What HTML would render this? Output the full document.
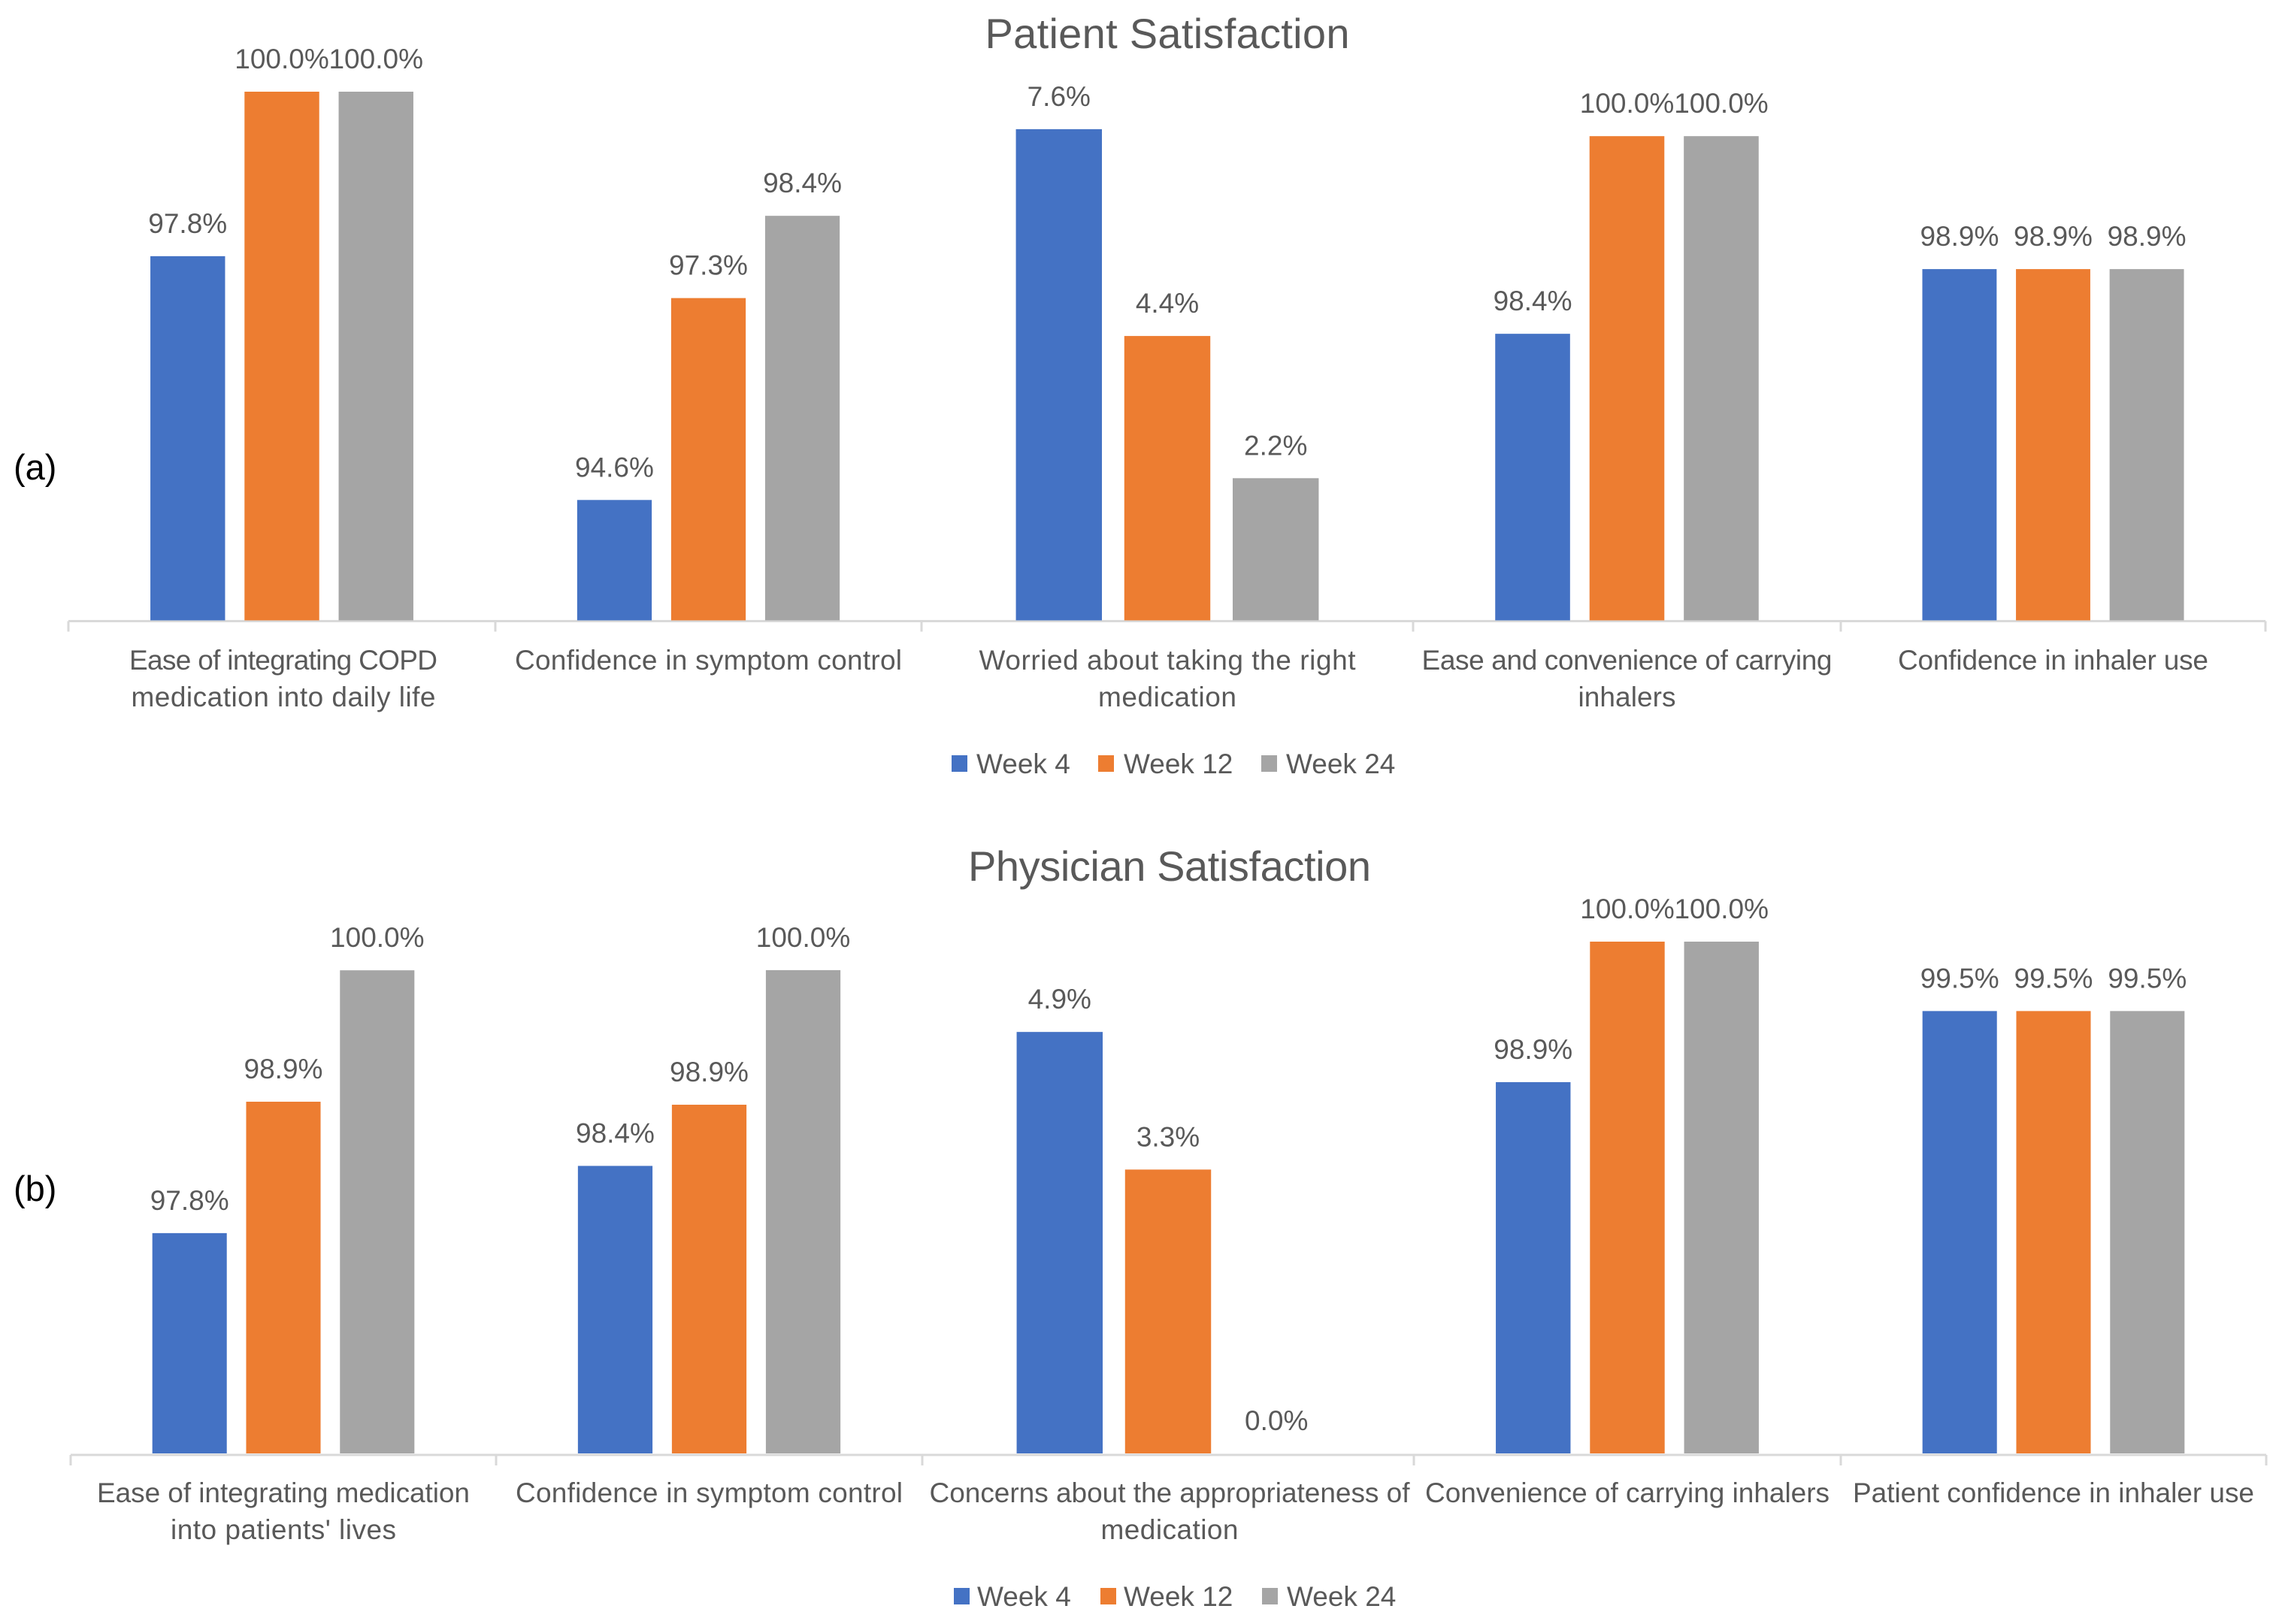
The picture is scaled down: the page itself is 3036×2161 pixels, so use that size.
<!DOCTYPE html>
<html lang="en">
<head>
<meta charset="utf-8">
<title>Patient and Physician Satisfaction</title>
<style>
html,body{margin:0;padding:0;background:#fff;width:3036px;height:2161px;overflow:hidden}
svg{display:block}
text{font-family:"Liberation Sans",sans-serif;fill:#595959}
</style>
</head>
<body>
<svg id="chart" xmlns="http://www.w3.org/2000/svg" width="3036" height="2161" viewBox="0 0 3036 2161">
  <rect x="0" y="0" width="3036" height="2161" fill="#ffffff"/>
  <text x="18" y="638" font-size="47" style="fill:#000">(a)</text>
  <text x="18" y="1598" font-size="47" style="fill:#000">(b)</text>
  <text x="1553" y="64" font-size="56" text-anchor="middle" textLength="485" lengthAdjust="spacing">Patient Satisfaction</text>
  <text x="1556" y="1172" font-size="56" text-anchor="middle" textLength="536" lengthAdjust="spacing">Physician Satisfaction</text>
  <g id="patient"></g>
  <g id="physician"></g>
</svg>
<script>
// ---- data ----
const seriesNames = ["Week 4", "Week 12", "Week 24"];

const patientCategories = [
  ["Ease of integrating COPD", "medication into daily life"],
  ["Confidence in symptom control"],
  ["Worried about taking the right", "medication"],
  ["Ease and convenience of carrying", "inhalers"],
  ["Confidence in inhaler use"]
];
const patientWeek4 = [97.8, 94.6, 7.6, 98.4, 98.9];
const patientWeek12 = [100.0, 97.3, 4.4, 100.0, 98.9];
const patientWeek24 = [100.0, 98.4, 2.2, 100.0, 98.9];
const patientDomainMin = [92.93, 92.99, 0, 96.08, 93];
const patientDomainMax = [100, 100.06, 8.18, 100.36, 101.88];

const physicianCategories = [
  ["Ease of integrating medication", "into patients' lives"],
  ["Confidence in symptom control"],
  ["Concerns about the appropriateness of", "medication"],
  ["Convenience of carrying inhalers"],
  ["Patient confidence in inhaler use"]
];
const physicianWeek4 = [97.8, 98.4, 4.9, 98.9, 99.5];
const physicianWeek12 = [98.9, 98.9, 3.3, 100.0, 99.5];
const physicianWeek24 = [100.0, 100.0, 0.0, 100.0, 99.5];
const physicianDomainMin = [95.956, 96.05, 0, 95.994, 93];
const physicianDomainMax = [100.24, 100.233, 5.95, 100, 100.52];

// ---- styling / layout ----
const colors = ["#4472C4", "#ED7D31", "#A5A5A5"];
const NS = "http://www.w3.org/2000/svg";

function node(parent, tag, attrs, txt) {
  const el = document.createElementNS(NS, tag);
  for (const k in attrs) el.setAttribute(k, attrs[k]);
  if (txt !== undefined) el.textContent = txt;
  parent.appendChild(el);
  return el;
}

function drawPanel(cfg) {
  const g = document.getElementById(cfg.id);
  const yScale = (v, c) =>
    cfg.base - (v - cfg.dmin[c]) / (cfg.dmax[c] - cfg.dmin[c]) * (cfg.base - cfg.top);

  // axis line
  const axis = node(g, "line", {x1: cfg.edges[0], x2: cfg.edges[cfg.edges.length - 1],
    y1: cfg.axisY, y2: cfg.axisY, stroke: "#D9D9D9", "stroke-width": 3});
  
  

  // ticks
  cfg.edges.forEach(function (x) {
    const t = node(g, "line", {x1: x, x2: x, y1: cfg.axisY, y2: cfg.axisY + 14,
      stroke: "#D9D9D9", "stroke-width": 3});
    
    
  });

  // bars + labels
  cfg.categories.forEach(function (lines, c) {
    const left = cfg.edges[c], right = cfg.edges[c + 1];
    const band = right - left, mid = (left + right) / 2;
    const pitch = band * 0.2205, bw = band * 0.175;

    cfg.series.forEach(function (vals, s) {
      const v = vals[c];
      const cx = mid + (s - 1) * pitch;
      const yTop = yScale(v, c);
      const h = Math.max(0, cfg.base - yTop);
      if (h > 0) {
        const r = node(g, "rect", {x: cx - bw / 2, y: yTop, width: bw, height: h, fill: colors[s]});
        
        
      }
      const lab = node(g, "text", {x: cx, y: yTop - 31, "font-size": 37, "text-anchor": "middle"},
        v.toFixed(1) + "%");
      
      
    });

    lines.forEach(function (line, i) {
      const t = node(g, "text", {x: mid + cfg.labelShift[c], y: cfg.labelY + i * 49,
        "font-size": 37, "text-anchor": "middle",
        textLength: cfg.lineWidths[c][i], lengthAdjust: "spacing"}, line);
      
      
    });
  });

  // legend
  seriesNames.forEach(function (name, s) {
    const sw = node(g, "rect", {x: cfg.legendSwatchX[s], y: cfg.legendY - 11, width: 21, height: 22, fill: colors[s]});
    
    
    const lt = node(g, "text", {x: cfg.legendTextX[s], y: cfg.legendY + 13, "font-size": 37}, name);
    
    
  });
}

drawPanel({
  id: "patient", base: 825.5, top: 122, axisY: 826.5,
  edges: [91, 659, 1226, 1880, 2449, 3014],
  labelY: 891, labelShift: [2, 0, 0, 0, 0],
  lineWidths: [[410, 405], [515], [501, 184], [546, 130], [413]],
  dmin: patientDomainMin, dmax: patientDomainMax,
  categories: patientCategories,
  series: [patientWeek4, patientWeek12, patientWeek24],
  legendY: 1016, legendSwatchX: [1266, 1461, 1678], legendTextX: [1299, 1495, 1711]
});

drawPanel({
  id: "physician", base: 1934, top: 1253, axisY: 1936,
  edges: [94, 660, 1227, 1881, 2449, 3015],
  labelY: 1999, labelShift: [0, 0, 2, 0, 0],
  lineWidths: [[496, 300], [515], [639, 183], [538], [534]],
  dmin: physicianDomainMin, dmax: physicianDomainMax,
  categories: physicianCategories,
  series: [physicianWeek4, physicianWeek12, physicianWeek24],
  legendY: 2124, legendSwatchX: [1269, 1464, 1679], legendTextX: [1300, 1495, 1712]
});
</script>
</body>
</html>
